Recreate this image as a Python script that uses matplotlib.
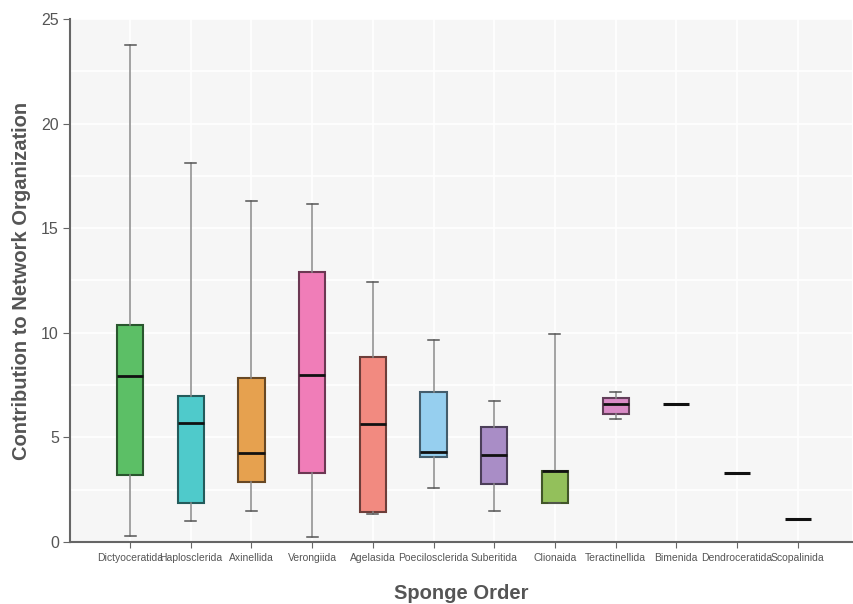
import matplotlib.pyplot as plt
import matplotlib.colors as mcolors
import numpy as np

plt.rcParams['font.family'] = ['Liberation Sans', 'DejaVu Sans']

# Box statistics per sponge order (read as quartiles and whisker ends)
orders = ['Dictyoceratida', 'Haplosclerida', 'Axinellida', 'Verongiida', 'Agelasida',
          'Poecilosclerida', 'Suberitida', 'Clionaida', 'Teractinellida', 'Bimenida',
          'Dendroceratida', 'Scopalinida']
whis_lo = [0.29, 1.00, 1.48, 0.24, 1.33, 2.57, 1.48, 1.86, 5.86, 6.62, 3.29, 1.10]
q1 = [3.19, 1.86, 2.86, 3.29, 1.43, 4.05, 2.76, 1.86, 6.14, 6.62, 3.29, 1.10]
med = [7.95, 5.71, 4.24, 8.00, 5.62, 4.29, 4.14, 3.38, 6.62, 6.62, 3.29, 1.10]
q3 = [10.38, 6.98, 7.86, 12.90, 8.86, 7.19, 5.48, 3.38, 6.90, 6.62, 3.29, 1.10]
whis_hi = [23.75, 18.10, 16.30, 16.15, 12.43, 9.67, 6.76, 9.95, 7.19, 6.62, 3.29, 1.10]
fills = ['#5cbf66', '#4fcacb', '#e6a14f', '#f07db8', '#f28a80', '#96cfef',
         '#a98dc6', '#93c05b', '#d98bc6', '#ffffff', '#ffffff', '#ffffff']

stats = []
for i in range(len(orders)):
    stats.append({'label': orders[i], 'whislo': whis_lo[i], 'q1': q1[i], 'med': med[i],
                  'q3': q3[i], 'whishi': whis_hi[i], 'fliers': []})

fig = plt.figure(figsize=(8.54, 6.04), dpi=100)
ax = fig.add_axes([0.082, 0.1026, 0.916, 0.866])
ax.set_facecolor('#f6f6f6')

pos = np.arange(len(orders))
bp = ax.bxp(stats, positions=pos, widths=0.43, capwidths=0.18, patch_artist=True,
            showfliers=False,
            whiskerprops=dict(color='#8a8a8a', lw=1.1),
            capprops=dict(color='#555555', lw=1.1),
            medianprops=dict(color='#111111', lw=2.0))
for i, box in enumerate(bp['boxes']):
    c = np.array(mcolors.to_rgb(fills[i]))
    box.set_facecolor(c)
    box.set_edgecolor(c * 0.45)
    box.set_linewidth(1.5)
    if q1[i] == q3[i]:
        # single value: only the median bar is drawn
        box.set_visible(False)
        for art in bp['whiskers'][2 * i:2 * i + 2] + bp['caps'][2 * i:2 * i + 2]:
            art.set_visible(False)
        bp['medians'][i].set_linewidth(2.2)

ax.set_xlim(-0.99, 11.9)
ax.set_ylim(0, 25)
ax.set_yticks([0, 5, 10, 15, 20, 25])
ax.set_yticks([2.5, 7.5, 12.5, 17.5, 22.5], minor=True)
ax.set_xticks(pos)
ax.set_xticklabels(orders, fontsize=7.5, color='#555555')
ax.tick_params(axis='y', labelsize=11.5, labelcolor='#555555', color='#666666', length=5, pad=3)
ax.tick_params(axis='y', which='minor', length=0)
ax.tick_params(axis='x', color='#666666', length=4, pad=4)
ax.grid(True, which='both', color='white', lw=1.2)
ax.set_axisbelow(True)
for s in ['top', 'right']:
    ax.spines[s].set_visible(False)
for s in ['left', 'bottom']:
    ax.spines[s].set_color('#666666')
    ax.spines[s].set_linewidth(1.5)

ax.set_xlabel('Sponge Order', fontsize=14.5, fontweight='bold', color='#555555', labelpad=15)
ax.set_ylabel('Contribution to Network Organization', fontsize=14.5, fontweight='bold',
              color='#555555', labelpad=7)

fig.savefig('out.png', dpi=100)
